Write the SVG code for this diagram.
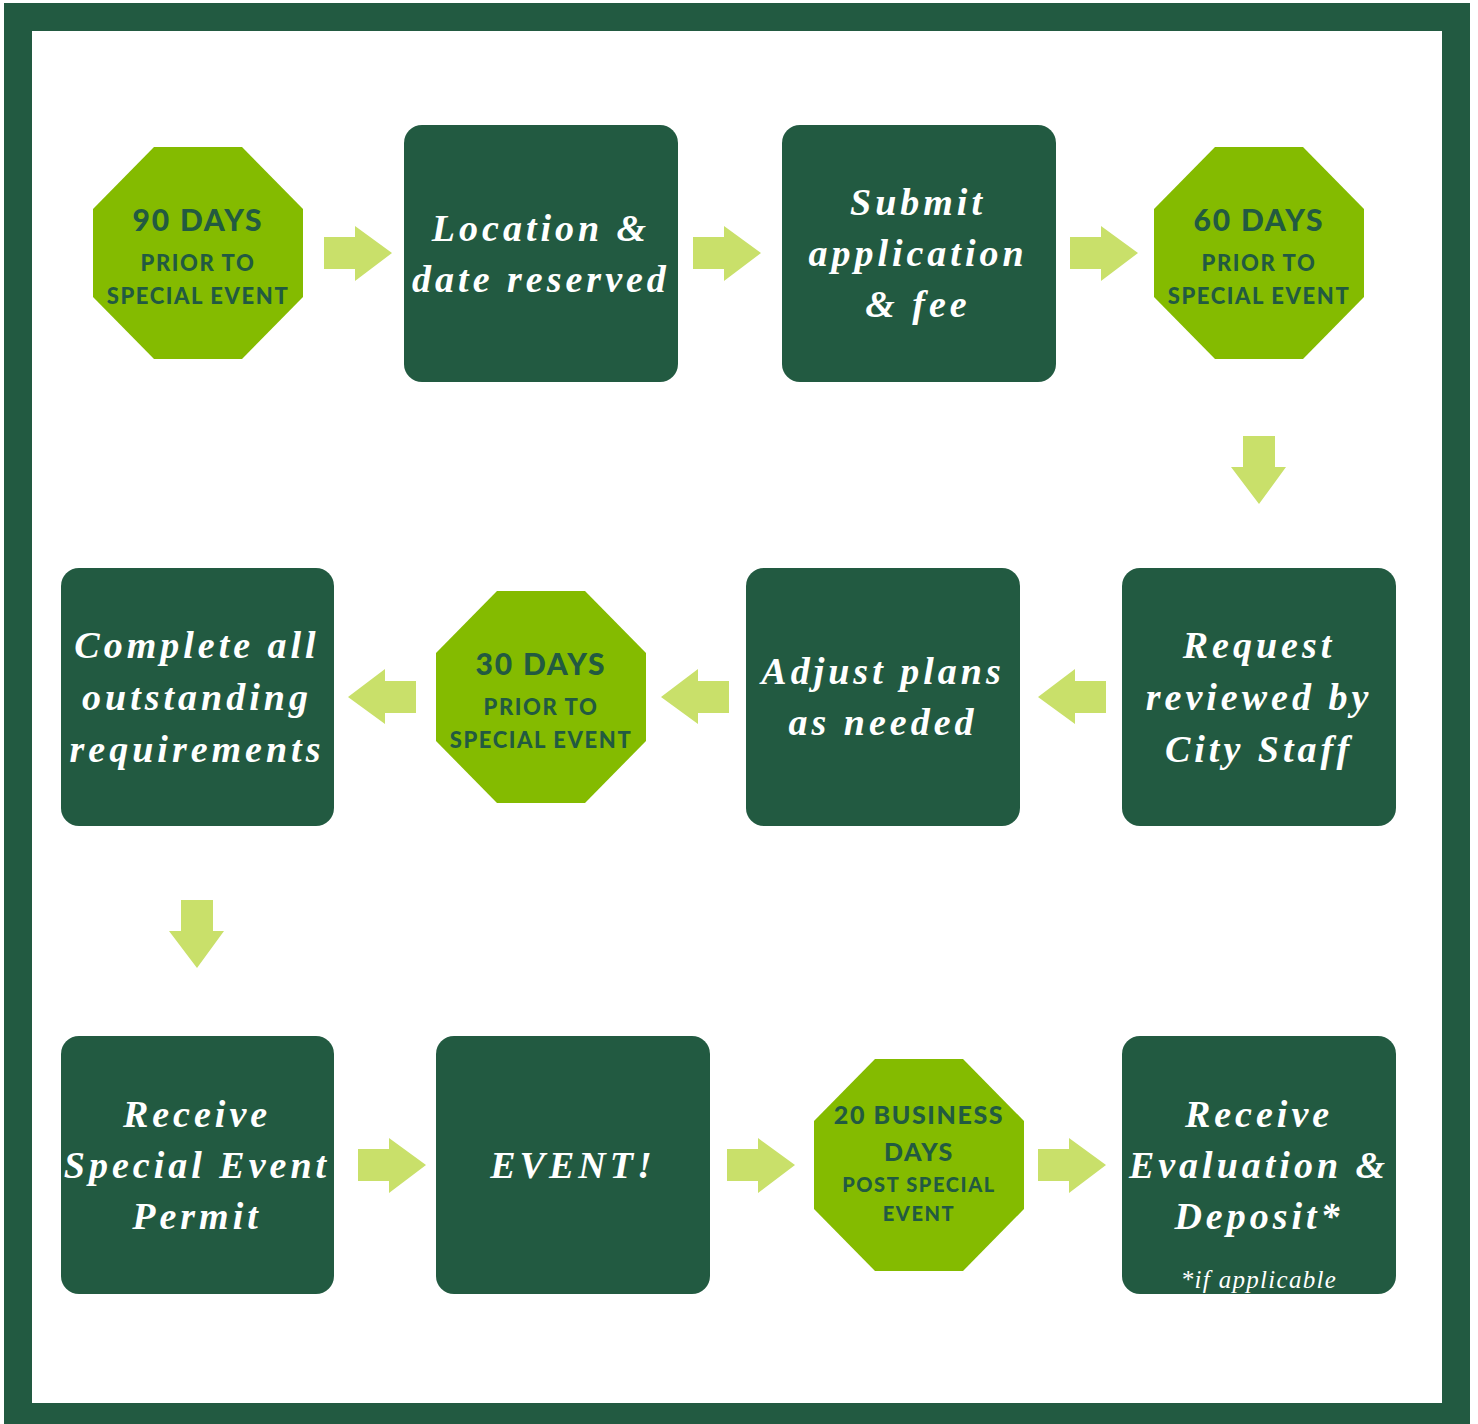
<svg xmlns="http://www.w3.org/2000/svg" width="1478" height="1424" viewBox="0 0 1478 1424">
<style>
.frame{fill:none;stroke:#225a41;stroke-width:28}
.box{fill:#225a41}
.oct{fill:#84bb00}
.arr{fill:#c9e06a}
.bt{font-family:"Liberation Serif","DejaVu Serif",serif;font-style:italic;font-weight:bold;font-size:38px;fill:#ffffff;text-anchor:middle;letter-spacing:4px}
.ot1{font-family:Lato,"Open Sans",sans-serif;font-weight:900;font-size:30px;fill:#225a41;text-anchor:middle;letter-spacing:1.8px}
.ot2{font-family:Lato,"Open Sans",sans-serif;font-weight:900;font-size:22px;fill:#225a41;text-anchor:middle;letter-spacing:1.6px}
.note{font-family:"Liberation Serif","DejaVu Serif",serif;font-style:italic;font-size:25px;fill:#ffffff;text-anchor:middle;letter-spacing:1.3px}
</style>
<defs>
<polygon id="octShape" points="-44,-106 44,-106 105,-44 105,44 44,106 -44,106 -105,44 -105,-44"/>
<polygon id="arrR" points="-34,-16 -3,-16 -3,-27 34,0 -3,28 -3,16 -34,16"/>
</defs>
<rect x="0" y="0" width="1478" height="1424" fill="#ffffff"/>
<rect class="frame" x="18" y="17" width="1438" height="1400"/>

<g id="connectors">
<use href="#arrR" class="arr" transform="translate(358,253)"/>
<use href="#arrR" class="arr" transform="translate(727,253)"/>
<use href="#arrR" class="arr" transform="translate(1104,253)"/>
<use href="#arrR" class="arr" transform="translate(1259,470) rotate(90)"/>
<use href="#arrR" class="arr" transform="translate(1072,697) rotate(180)"/>
<use href="#arrR" class="arr" transform="translate(695,697) rotate(180)"/>
<use href="#arrR" class="arr" transform="translate(382,697) rotate(180)"/>
<use href="#arrR" class="arr" transform="translate(197,934) rotate(90)"/>
<use href="#arrR" class="arr" transform="translate(392,1165)"/>
<use href="#arrR" class="arr" transform="translate(761,1165)"/>
<use href="#arrR" class="arr" transform="translate(1072,1165)"/>
</g>

<g id="n90">
<use href="#octShape" class="oct" transform="translate(198,253)"/>
<text class="ot1" x="198" y="231">90 DAYS</text>
<text class="ot2" x="198" y="271">PRIOR TO</text>
<text class="ot2" x="198" y="304">SPECIAL EVENT</text>
</g>
<g id="nLocation">
<rect class="box" x="404" y="125" width="274" height="257" rx="18"/>
<text class="bt" x="541" y="241">Location &amp;</text>
<text class="bt" x="541" y="292">date reserved</text>
</g>
<g id="nSubmit">
<rect class="box" x="782" y="125" width="274" height="257" rx="18"/>
<text class="bt" x="918" y="215">Submit</text>
<text class="bt" x="918" y="266">application</text>
<text class="bt" x="918" y="317">&amp; fee</text>
</g>
<g id="n60">
<use href="#octShape" class="oct" transform="translate(1259,253)"/>
<text class="ot1" x="1259" y="231">60 DAYS</text>
<text class="ot2" x="1259" y="271">PRIOR TO</text>
<text class="ot2" x="1259" y="304">SPECIAL EVENT</text>
</g>
<g id="nRequest">
<rect class="box" x="1122" y="568" width="274" height="258" rx="18"/>
<text class="bt" x="1259" y="658">Request</text>
<text class="bt" x="1259" y="710">reviewed by</text>
<text class="bt" x="1259" y="762">City Staff</text>
</g>
<g id="nAdjust">
<rect class="box" x="746" y="568" width="274" height="258" rx="18"/>
<text class="bt" x="883" y="684">Adjust plans</text>
<text class="bt" x="883" y="735">as needed</text>
</g>
<g id="n30">
<use href="#octShape" class="oct" transform="translate(541,697)"/>
<text class="ot1" x="541" y="675">30 DAYS</text>
<text class="ot2" x="541" y="715">PRIOR TO</text>
<text class="ot2" x="541" y="748">SPECIAL EVENT</text>
</g>
<g id="nComplete">
<rect class="box" x="61" y="568" width="273" height="258" rx="18"/>
<text class="bt" x="197" y="658">Complete all</text>
<text class="bt" x="197" y="710">outstanding</text>
<text class="bt" x="197" y="762">requirements</text>
</g>
<g id="nPermit">
<rect class="box" x="61" y="1036" width="273" height="258" rx="18"/>
<text class="bt" x="197" y="1127">Receive</text>
<text class="bt" x="197" y="1178">Special Event</text>
<text class="bt" x="197" y="1229">Permit</text>
</g>
<g id="nEvent">
<rect class="box" x="436" y="1036" width="274" height="258" rx="18"/>
<text class="bt" x="573" y="1178">EVENT!</text>
</g>
<g id="n20">
<use href="#octShape" class="oct" transform="translate(919,1165)"/>
<text class="ot2" x="919" y="1124" style="font-size:25px">20 BUSINESS</text>
<text class="ot2" x="919" y="1161" style="font-size:25px">DAYS</text>
<text class="ot2" x="919" y="1192" style="font-size:20px">POST SPECIAL</text>
<text class="ot2" x="919" y="1221" style="font-size:20px">EVENT</text>
</g>
<g id="nEvaluation">
<rect class="box" x="1122" y="1036" width="274" height="258" rx="18"/>
<text class="bt" x="1259" y="1127">Receive</text>
<text class="bt" x="1259" y="1178">Evaluation &amp;</text>
<text class="bt" x="1259" y="1229">Deposit*</text>
<text class="note" x="1259" y="1288">*if applicable</text>
</g>
</svg>
